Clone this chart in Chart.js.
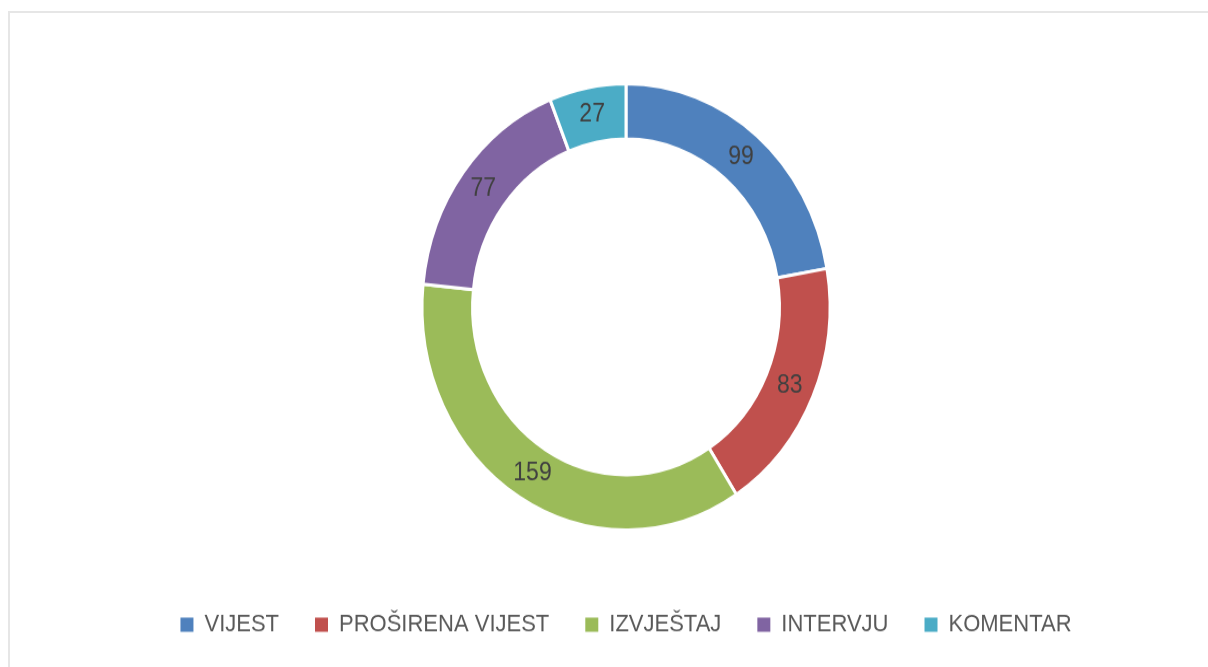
<!DOCTYPE html>
<html>
<head>
<meta charset="utf-8">
<script src="https://cdn.jsdelivr.net/npm/chart.js@4/dist/chart.umd.min.js"></script>
<style>
    html, body { margin: 0; padding: 0; background: #fff; overflow: hidden; width: 1208px; height: 667px; }
    .frame { position: absolute; left: 8px; top: 11px; width: 1300px; height: 700px;
             border-left: 2px solid #e6e6e6; border-top: 2px solid #e6e6e6; }
    .wrap { position: absolute; left: 9px; top: 0; width: 1234px; height: 592px;
            transform: scaleY(1.094); transform-origin: 0 0; }
</style>
</head>
<body>
<div class="frame"></div>
<div class="wrap"><canvas id="donutChart"></canvas></div>
<script>
    // --- Datos ---
    const categories = ['VIJEST', 'PROŠIRENA VIJEST', 'IZVJEŠTAJ', 'INTERVJU', 'KOMENTAR'];
    const counts = [99, 83, 159, 77, 27];
    const sliceColors = ['#4F81BD', '#C0504D', '#9BBB59', '#8064A2', '#4BACC6'];

    // Etiquetas con el valor dentro de cada segmento
    const valueLabels = {
        id: 'valueLabels',
        afterDatasetsDraw(chart) {
            const ctx = chart.ctx;
            const meta = chart.getDatasetMeta(0);
            ctx.save();
            ctx.font = '23px "Liberation Sans", Arial, sans-serif';
            ctx.fillStyle = '#404040';
            ctx.textAlign = 'center';
            ctx.textBaseline = 'middle';
            meta.data.forEach((arc, i) => {
                const p = arc.tooltipPosition();
                ctx.fillText(String(chart.data.datasets[0].data[i]), p.x, p.y);
            });
            ctx.restore();
        }
    };

    const ctx = document.getElementById('donutChart').getContext('2d');
    new Chart(ctx, {
        type: 'doughnut',
        data: {
            labels: categories,
            datasets: [{
                data: counts,
                backgroundColor: sliceColors,
                borderColor: '#ffffff',
                borderWidth: 3,
                radius: 204,
                cutout: '75.2%'
            }]
        },
        options: {
            responsive: true,
            maintainAspectRatio: false,
            animation: false,
            layout: { padding: { top: 37, bottom: 0, left: 0, right: 0 } },
            plugins: {
                tooltip: { enabled: false },
                legend: {
                    position: 'bottom',
                    labels: {
                        boxWidth: 13,
                        boxHeight: 13,
                        padding: 36,
                        color: '#595959',
                        font: { family: '"Liberation Sans", Arial, sans-serif', size: 22 },
                        // cuadrados sin el borde blanco del segmento
                        generateLabels(chart) {
                            return Chart.overrides.doughnut.plugins.legend.labels.generateLabels(chart)
                                .map(item => ({ ...item, lineWidth: 0, strokeStyle: item.fillStyle }));
                        }
                    }
                }
            }
        },
        plugins: [valueLabels]
    });
</script>
</body>
</html>
